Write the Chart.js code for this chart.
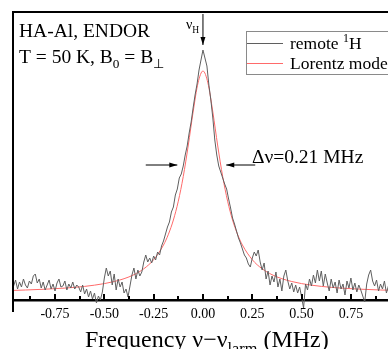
<!DOCTYPE html>
<html>
<head>
<meta charset="utf-8">
<script src="https://cdn.jsdelivr.net/npm/chart.js@4.4.1/dist/chart.umd.min.js"></script>
<style>
  html, body { margin: 0; padding: 0; background: #fff; }
  #wrap { width: 388px; height: 349px; }
</style>
</head>
<body>
<div id="wrap"><canvas id="endorChart" width="388" height="349"></canvas></div>
<script>
// frequency offset from the proton Larmor frequency (MHz)
const freq = [
    -0.96, -0.95, -0.94, -0.93, -0.92, -0.91, -0.90, -0.89, -0.88, -0.87,
    -0.86, -0.85, -0.84, -0.83, -0.82, -0.81, -0.80, -0.79, -0.78, -0.77,
    -0.76, -0.75, -0.74, -0.73, -0.72, -0.71, -0.70, -0.69, -0.68, -0.67,
    -0.66, -0.65, -0.64, -0.63, -0.62, -0.61, -0.60, -0.59, -0.58, -0.57,
    -0.56, -0.55, -0.54, -0.53, -0.52, -0.51, -0.50, -0.49, -0.48, -0.47,
    -0.46, -0.45, -0.44, -0.43, -0.42, -0.41, -0.40, -0.39, -0.38, -0.37,
    -0.36, -0.35, -0.34, -0.33, -0.32, -0.31, -0.30, -0.29, -0.28, -0.27,
    -0.26, -0.25, -0.24, -0.23, -0.22, -0.21, -0.20, -0.19, -0.18, -0.17,
    -0.16, -0.15, -0.14, -0.13, -0.12, -0.11, -0.10, -0.09, -0.08, -0.07,
    -0.06, -0.05, -0.04, -0.03, -0.02, -0.01, 0.00, 0.01, 0.02, 0.03,
    0.04, 0.05, 0.06, 0.07, 0.08, 0.09, 0.10, 0.11, 0.12, 0.13,
    0.14, 0.15, 0.16, 0.17, 0.18, 0.19, 0.20, 0.21, 0.22, 0.23,
    0.24, 0.25, 0.26, 0.27, 0.28, 0.29, 0.30, 0.31, 0.32, 0.33,
    0.34, 0.35, 0.36, 0.37, 0.38, 0.39, 0.40, 0.41, 0.42, 0.43,
    0.44, 0.45, 0.46, 0.47, 0.48, 0.49, 0.50, 0.51, 0.52, 0.53,
    0.54, 0.55, 0.56, 0.57, 0.58, 0.59, 0.60, 0.61, 0.62, 0.63,
    0.64, 0.65, 0.66, 0.67, 0.68, 0.69, 0.70, 0.71, 0.72, 0.73,
    0.74, 0.75, 0.76, 0.77, 0.78, 0.79, 0.80, 0.81, 0.82, 0.83,
    0.84, 0.85, 0.86, 0.87, 0.88, 0.89, 0.90, 0.91, 0.92, 0.93,
    0.94
];

// ENDOR signal, arbitrary units
const remoteH = [
    14, 20, 11, 18, 13, 21, 15, 12, 19, 16,
    24, 26, 17, 21, 12, 18, 10, 15, 20, 11,
    16, 9, 17, 21, 13, 14, 19, 10, 16, 12,
    18, 11, 15, 13, 8, 15, 6, 11, 3, 9,
    1, 7, -3, 4, 0, 8, 22, 32, 24, 29,
    15, 26, 10, 21, 13, 18, 7, 11, 3, 14,
    25, 32, 21, 30, 24, 28, 38, 45, 38, 42,
    37, 44, 40, 48, 45, 54, 59, 66, 73, 78,
    88, 93, 105, 111, 122, 126, 134, 145, 154, 167,
    178, 192, 205, 216, 230, 240, 250, 242, 234, 215,
    200, 182, 160, 145, 134, 128, 122, 116, 111, 101,
    92, 82, 76, 69, 62, 57, 51, 45, 42, 36,
    33, 42, 48, 44, 50, 38, 30, 37, 21, 29,
    15, 24, 18, 28, 13, 21, 9, 24, 30, 19,
    11, 17, 8, 15, 7, 13, 3, -8, 16, 10,
    21, 14, 25, 17, 30, 19, 29, 14, 26, 17,
    9, 21, 12, 18, 7, 20, 11, 16, 5, 19,
    12, 22, 10, 17, 8, 15, 10, 4, -2, 16,
    25, 30, 19, 14, 20, 9, 16, 11, 19, 7,
    14
];

// fitted Lorentz line
const modelFreq = [
    -0.96, -0.9, -0.8, -0.7, -0.6, -0.5, -0.45, -0.4, -0.35, -0.3,
    -0.25, -0.2, -0.175, -0.15, -0.125, -0.1, -0.075, -0.05, -0.025, 0,
    0.025, 0.05, 0.075, 0.1, 0.125, 0.15, 0.175, 0.2, 0.25, 0.3,
    0.35, 0.4, 0.45, 0.5, 0.6, 0.7, 0.8, 0.9, 0.94
];
const lorentz = [
    9.6, 10, 10.8, 11.9, 13.6, 16.4, 18.5, 21.3, 25.3, 31.2,
    40.3, 55, 65.8, 80, 98.8, 123.4, 154, 188, 217.1, 229,
    217.1, 188, 154, 123.4, 98.8, 80, 65.8, 55, 40.3, 31.2,
    25.3, 21.3, 18.5, 16.4, 13.6, 11.9, 10.8, 10, 9.8
];

const majorTicks = [-0.75, -0.5, -0.25, 0, 0.25, 0.5, 0.75];
const minorTicks = [-0.875, -0.625, -0.375, -0.125, 0.125, 0.375, 0.625, 0.875];
const seriesNames = ['remote ', 'Lorentz model'];

const serif = '"Liberation Serif", "Times New Roman", serif';

// draws runs of text, some of them as subscripts or superscripts
function drawRuns(ctx, runs, x, y, size) {
    runs.forEach(run => {
        const s = run.sub || run.sup ? size * 0.68 : size;
        const dy = run.sub ? size * 0.28 : run.sup ? -size * 0.38 : 0;
        ctx.font = `${s}px ${serif}`;
        ctx.fillText(run.t, x, y + dy);
        x += ctx.measureText(run.t).width;
    });
}

function arrow(ctx, x1, y1, x2, y2) {
    const ang = Math.atan2(y2 - y1, x2 - x1);
    ctx.beginPath();
    ctx.moveTo(x1, y1);
    ctx.lineTo(x2, y2);
    ctx.stroke();
    ctx.beginPath();
    ctx.moveTo(x2, y2);
    ctx.lineTo(x2 - 8 * Math.cos(ang) + 2.5 * Math.sin(ang), y2 - 8 * Math.sin(ang) - 2.5 * Math.cos(ang));
    ctx.lineTo(x2 - 8 * Math.cos(ang) - 2.5 * Math.sin(ang), y2 - 8 * Math.sin(ang) + 2.5 * Math.cos(ang));
    ctx.closePath();
    ctx.fill();
}

const decorations = {
    id: 'decorations',
    afterDraw(chart) {
        const { ctx, chartArea: a, scales: { x, y } } = chart;
        ctx.save();
        ctx.fillStyle = '#000';
        ctx.strokeStyle = '#000';

        // frame: left and top edges, the left one runs a bit below the axis
        ctx.lineWidth = 2;
        ctx.beginPath();
        ctx.moveTo(a.left, a.bottom + 12);
        ctx.lineTo(a.left, a.top);
        ctx.lineTo(a.right, a.top);
        ctx.stroke();

        // inward ticks
        ctx.lineWidth = 2;
        majorTicks.forEach(v => {
            const px = Math.round(x.getPixelForValue(v));
            ctx.beginPath(); ctx.moveTo(px, a.bottom); ctx.lineTo(px, a.bottom - 6); ctx.stroke();
        });
        minorTicks.forEach(v => {
            const px = Math.round(x.getPixelForValue(v));
            ctx.beginPath(); ctx.moveTo(px, a.bottom); ctx.lineTo(px, a.bottom - 4); ctx.stroke();
        });

        // sample description
        ctx.textAlign = 'left';
        ctx.textBaseline = 'alphabetic';
        drawRuns(ctx, [{ t: 'HA-Al, ENDOR' }], 19, 37, 19.5);
        drawRuns(ctx, [{ t: 'T = 50 K, B' }, { t: '0', sub: true }, { t: ' = B' }, { t: '⊥', sub: true }], 19, 63, 19.5);

        // nu_H marker
        ctx.lineWidth = 1;
        const x0 = x.getPixelForValue(0);
        arrow(ctx, x0, a.top + 2, x0, y.getPixelForValue(255));
        drawRuns(ctx, [{ t: 'ν' }, { t: 'H', sub: true }], 186, 29, 14);

        // line width marker
        const yw = y.getPixelForValue(135);
        arrow(ctx, x.getPixelForValue(-0.29), yw, x.getPixelForValue(-0.13), yw);
        arrow(ctx, x.getPixelForValue(0.265), yw, x.getPixelForValue(0.118), yw);
        drawRuns(ctx, [{ t: 'Δν=0.21 MHz' }], x.getPixelForValue(0.248), y.getPixelForValue(137), 19.5);

        // legend box
        const lx = 246, ly = 31;
        ctx.strokeStyle = '#8a8a8a';
        ctx.lineWidth = 1;
        ctx.strokeRect(lx + 0.5, ly + 0.5, 200, 43);
        const rows = [
            { ds: chart.data.datasets[0], runs: [{ t: seriesNames[0] }, { t: '1', sup: true }, { t: 'H' }], yy: ly + 12 },
            { ds: chart.data.datasets[1], runs: [{ t: seriesNames[1] }], yy: ly + 32 }
        ];
        rows.forEach(r => {
            ctx.strokeStyle = r.ds.borderColor;
            ctx.beginPath();
            ctx.moveTo(lx + 1, r.yy + 0.5);
            ctx.lineTo(lx + 37, r.yy + 0.5);
            ctx.stroke();
            ctx.fillStyle = '#000';
            drawRuns(ctx, r.runs, lx + 44, r.yy + 6, 17.5);
        });

        // axis title
        ctx.fillStyle = '#000';
        drawRuns(ctx, [{ t: 'Frequency ν−ν' }, { t: 'larm', sub: true }, { t: ' (MHz)' }], 85, 347, 24);
        ctx.restore();
    }
};

const canvas = document.getElementById('endorChart');
new Chart(canvas, {
    type: 'line',
    data: {
        datasets: [{
            label: 'remote 1H',
            data: freq.map((f, i) => ({ x: f, y: remoteH[i] })),
            borderColor: '#5f5f5f',
            borderWidth: 1,
            pointRadius: 0,
            tension: 0,
            clip: false
        }, {
            label: 'Lorentz model',
            data: modelFreq.map((f, i) => ({ x: f, y: lorentz[i] })),
            borderColor: '#ff6a6a',
            borderWidth: 1,
            pointRadius: 0,
            cubicInterpolationMode: 'monotone',
            clip: false
        }]
    },
    options: {
        responsive: false,
        animation: false,
        events: [],
        layout: { padding: { left: 13, top: 12, right: 0, bottom: 0 } },
        plugins: {
            legend: { display: false },
            tooltip: { enabled: false }
        },
        scales: {
            x: {
                type: 'linear',
                min: -0.963,
                max: 0.938,
                afterBuildTicks: scale => { scale.ticks = majorTicks.map(v => ({ value: v })); },
                afterFit: scale => { scale.height = 49; },
                ticks: {
                    callback: v => v.toFixed(2),
                    color: '#000',
                    font: { family: serif, size: 14 },
                    padding: 6,
                    maxRotation: 0,
                    autoSkip: false
                },
                grid: { display: false, drawTicks: false },
                border: { display: true, color: '#000', width: 2.5 }
            },
            y: {
                display: false,
                min: 0,
                max: 288
            }
        }
    },
    plugins: [decorations]
});
</script>
</body>
</html>
